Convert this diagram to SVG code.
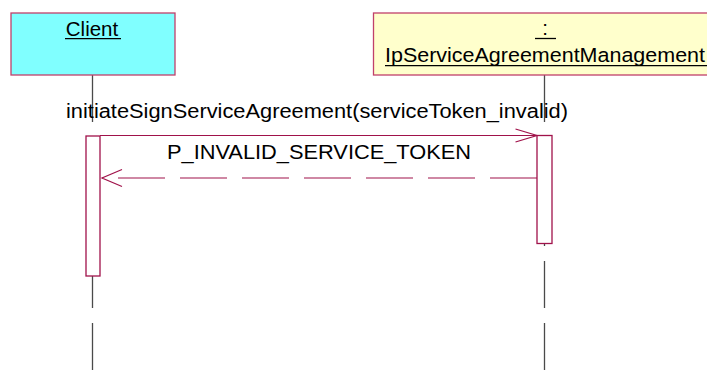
<svg xmlns="http://www.w3.org/2000/svg" width="707" height="381" viewBox="0 0 707 381">
<style>
.box{stroke:#C0406A;stroke-width:1.3}
.life{stroke:#4A4A4A;stroke-width:1.3;stroke-dasharray:47 15;fill:none}
.act{fill:#FFFFFF;stroke:#A0124A;stroke-width:1.3}
.msg{stroke:#A0124A;stroke-width:1.2;fill:none}
.ret{stroke:#A0124A;stroke-width:1.2;fill:none;stroke-dasharray:47 15}
.t{font-family:"Liberation Sans",Arial,sans-serif;fill:#000000}
.ul{stroke:#000000;stroke-width:1.3}
</style>
<rect width="707" height="381" fill="#FFFFFF"/>
<g id="lifelines">
<line class="life" x1="92.5" y1="75" x2="92.5" y2="370"/>
<line class="life" x1="544.5" y1="75" x2="544.5" y2="370"/>
</g>
<g id="client">
<rect class="box" x="11" y="13" width="164" height="62" fill="#80FFFF"/>
<text class="t" x="92" y="36" font-size="20.5" text-anchor="middle">Client</text>
<line class="ul" x1="65" y1="38.7" x2="121" y2="38.7"/>
<rect class="act" x="86" y="136" width="14" height="140"/>
</g>
<g id="ipServiceAgreementManagement">
<rect class="box" x="373.5" y="13" width="345" height="62" fill="#FFFFCC"/>
<text class="t" x="545" y="35" font-size="20.5" text-anchor="middle">:</text>
<line class="ul" x1="535" y1="38.5" x2="556" y2="38.5"/>
<text class="t" x="385" y="62" font-size="20.5" textLength="320" lengthAdjust="spacingAndGlyphs">IpServiceAgreementManagement</text>
<line class="ul" x1="385" y1="65.7" x2="707" y2="65.7"/>
<rect class="act" x="537" y="135.5" width="15" height="108"/>
</g>
<g id="connectors">
<line class="msg" x1="100" y1="135.5" x2="537" y2="135.5"/>
<polyline class="msg" points="515.5,129 537,135.5 515.5,142"/>
<text class="t" x="66" y="118" font-size="19.5" textLength="502" lengthAdjust="spacingAndGlyphs">initiateSignServiceAgreement(serviceToken_invalid)</text>
<line class="ret" x1="537" y1="178" x2="102" y2="178"/>
<polyline class="msg" points="122,169.5 102,178 122,186.5"/>
<text class="t" x="167" y="159" font-size="19.5" textLength="304" lengthAdjust="spacingAndGlyphs">P_INVALID_SERVICE_TOKEN</text>
</g>
</svg>
